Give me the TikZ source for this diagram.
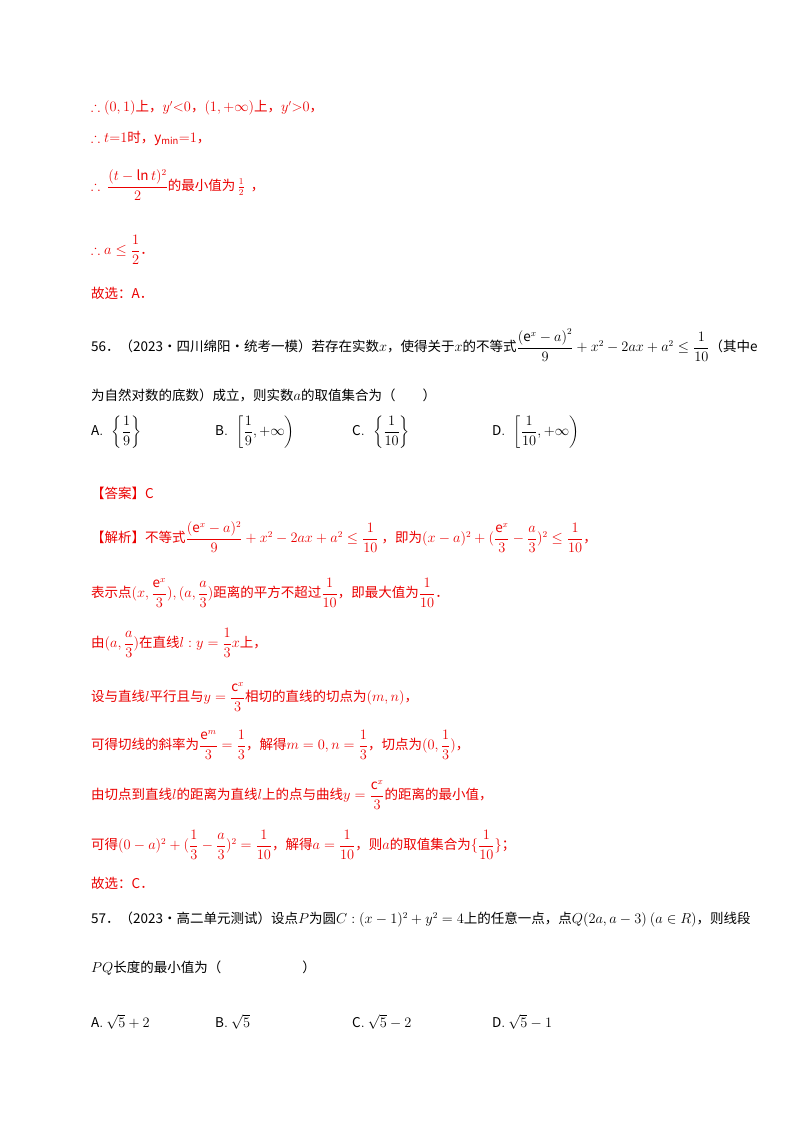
\documentclass[tikz,border=0pt]{standalone}
\usepackage{amsmath,amssymb}
\usepackage{fontspec}
\setmainfont{Noto Sans CJK SC}
\definecolor{ans}{RGB}{235,0,0}
\begin{document}
\begin{tikzpicture}[x=1pt,y=-1pt,
  ln/.style={anchor=west,inner sep=0pt,font=\fontsize{13.5}{16}\selectfont},
  rd/.style={ln,text=ans}]
\useasboundingbox[fill=white] (0,0) rectangle (800,1132);
\node[rd] (l1) at (91,108) {$\therefore(0,1)$上，$y'{<}0$，$(1,+\infty)$上，$y'{>}0$，};
\node[rd] (l2) at (91,138) {$\therefore t{=}1$时，$\mathrm{y_{min}}{=}1$，};
\node[rd] (l3) at (91,185) {$\therefore\ \dfrac{(t-\ln t)^2}{2}$的最小值为\,$\frac12$\ \ ，};
\node[rd] (l4) at (91,250) {$\therefore a\le\dfrac12$．};
\node[rd] (l5) at (91,293) {故选：$\mathrm{A}$．};
\node[ln] (l6) at (91,345) {56．（2023·四川绵阳·统考一模）若存在实数$x$，使得关于$x$的不等式$\dfrac{\left(\mathrm{e}^x-a\right)^2}{9}+x^2-2ax+a^2\le\dfrac1{10}$（其中$\mathrm{e}$};
\node[ln] (l7) at (91,395) {为自然对数的底数）成立，则实数$a$的取值集合为（　　）};
\node[ln] (l8a) at (91,432) {$\mathrm{A}.\ \ \left\{\dfrac19\right\}$};
\node[ln] (l8b) at (215,432) {$\mathrm{B}.\ \ \left[\dfrac19,+\infty\right)$};
\node[ln] (l8c) at (352,432) {$\mathrm{C}.\ \ \left\{\dfrac1{10}\right\}$};
\node[ln] (l8d) at (492,432) {$\mathrm{D}.\ \ \left[\dfrac1{10},+\infty\right)$};
\node[rd] (l9) at (91,493) {【答案】$\mathrm{C}$};
\node[rd] (l10) at (91,537) {【解析】不等式$\dfrac{(\mathrm{e}^x-a)^2}{9}+x^2-2ax+a^2\le\dfrac1{10}$\ ，即为$(x-a)^2+(\dfrac{\mathrm{e}^x}{3}-\dfrac a3)^2\le\dfrac1{10}$，};
\node[rd] (l11) at (91,593) {表示点$(x,\dfrac{\mathrm{e}^x}{3}),(a,\dfrac a3)$距离的平方不超过$\dfrac1{10}$，即最大值为$\dfrac1{10}$．};
\node[rd] (l12) at (91,643) {由$(a,\dfrac a3)$在直线$l:y=\dfrac13x$上，};
\node[rd] (l13) at (91,697) {设与直线$l$平行且与$y=\dfrac{\mathrm{c}^x}{3}$相切的直线的切点为$(m,n)$，};
\node[rd] (l14) at (91,745) {可得切线的斜率为$\dfrac{\mathrm{e}^m}{3}=\dfrac13$，解得$m=0,n=\dfrac13$，切点为$(0,\dfrac13)$，};
\node[rd] (l15) at (91,795) {由切点到直线$l$的距离为直线$l$上的点与曲线$y=\dfrac{\mathrm{c}^x}{3}$的距离的最小值，};
\node[rd] (l16) at (91,845) {可得$(0-a)^2+(\dfrac13-\dfrac a3)^2=\dfrac1{10}$，解得$a=\dfrac1{10}$，则$a$的取值集合为$\{\dfrac1{10}\}$；};
\node[rd] (l17) at (91,883) {故选：$\mathrm{C}$．};
\node[ln] (l18) at (91,920) {57．（2023·高二单元测试）设点$P$为圆$C:(x-1)^2+y^2=4$上的任意一点，点$Q(2a,a-3)\ (a\in R)$，则线段};
\node[ln] (l19) at (91,968) {$PQ$长度的最小值为（　　　　　　）};
\node[ln] (l20a) at (91,1022) {$\mathrm{A}.\ \sqrt5+2$};
\node[ln] (l20b) at (215,1022) {$\mathrm{B}.\ \sqrt5$};
\node[ln] (l20c) at (352,1022) {$\mathrm{C}.\ \sqrt5-2$};
\node[ln] (l20d) at (492,1022) {$\mathrm{D}.\ \sqrt5-1$};
\end{tikzpicture}
\end{document}
